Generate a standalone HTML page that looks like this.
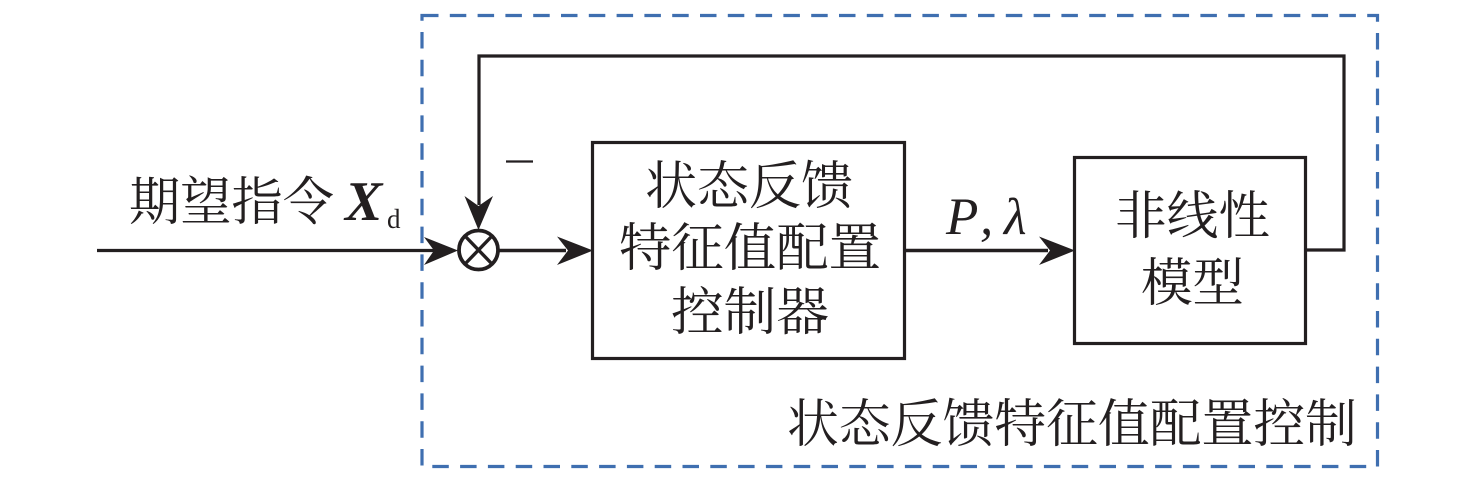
<!DOCTYPE html>
<html>
<head>
<meta charset="utf-8">
<style>
html,body{margin:0;padding:0;background:#fff;width:1476px;height:482px;overflow:hidden}
svg{display:block}
text{fill:#231f20}
.cn{font-family:"Liberation Serif","Noto Serif CJK SC",serif;font-size:52px}
</style>
</head>
<body>
<svg width="1476" height="482" viewBox="0 0 1476 482" xmlns="http://www.w3.org/2000/svg">
<rect x="422" y="15.5" width="955.5" height="451" fill="none" stroke="#3f6fb0" stroke-width="3.2" stroke-dasharray="16.5 11.3"/>
<g fill="none" stroke="#231f20" stroke-width="3.2">
<rect x="592.5" y="142.5" width="312" height="216"/>
<rect x="1074.5" y="157.5" width="231" height="186"/>
<path d="M1305 250H1344V56H479V205"/>
<path d="M97 250.5H434"/>
<path d="M498 250.5H566" stroke-width="3.6"/>
<path d="M905 250.5H1048" stroke-width="3.6"/>
<circle cx="478.5" cy="250" r="19.5" stroke-width="3.8"/>
<path d="M465 236L492 264M492 236L465 264" stroke-width="3.4"/>
<path d="M506 161.5H533" stroke-width="2.2"/>
</g>
<g fill="#231f20">
<path d="M458 250.5L424 237L434 250.5L424 265Z"/>
<path d="M478.5 230L464.5 196L478.5 206L493 196Z"/>
<path d="M593 250.5L557 236.5L568 250.5L557 265Z"/>
<path d="M1075 250.5L1039 236.5L1050 250.5L1039 265Z"/>
</g>
<text class="cn" x="129" y="220" textLength="205" lengthAdjust="spacingAndGlyphs">期望指令</text>
<text x="345" y="220" font-family="Liberation Serif,serif" font-size="56" font-weight="bold" font-style="italic">X</text>
<text x="387" y="228" font-family="Liberation Serif,serif" font-size="27">d</text>
<text class="cn" x="645" y="204" textLength="208" lengthAdjust="spacingAndGlyphs">状态反馈</text>
<text class="cn" x="619" y="266" textLength="262" lengthAdjust="spacingAndGlyphs">特征值配置</text>
<text class="cn" x="671" y="330" textLength="158" lengthAdjust="spacingAndGlyphs">控制器</text>
<text class="cn" x="1115" y="234" textLength="155" lengthAdjust="spacingAndGlyphs">非线性</text>
<text class="cn" x="1141" y="301" textLength="103" lengthAdjust="spacingAndGlyphs">模型</text>
<text class="cn" x="787" y="442" textLength="570" lengthAdjust="spacingAndGlyphs">状态反馈特征值配置控制</text>
<text x="946" y="234" font-family="Liberation Serif,serif" font-size="53" font-style="italic">P</text>
<text x="980" y="234" font-family="Liberation Serif,serif" font-size="53" font-style="italic">,</text>
<text x="1004" y="234" font-family="Liberation Serif,serif" font-size="52" font-style="italic">λ</text>
</svg>
</body>
</html>
